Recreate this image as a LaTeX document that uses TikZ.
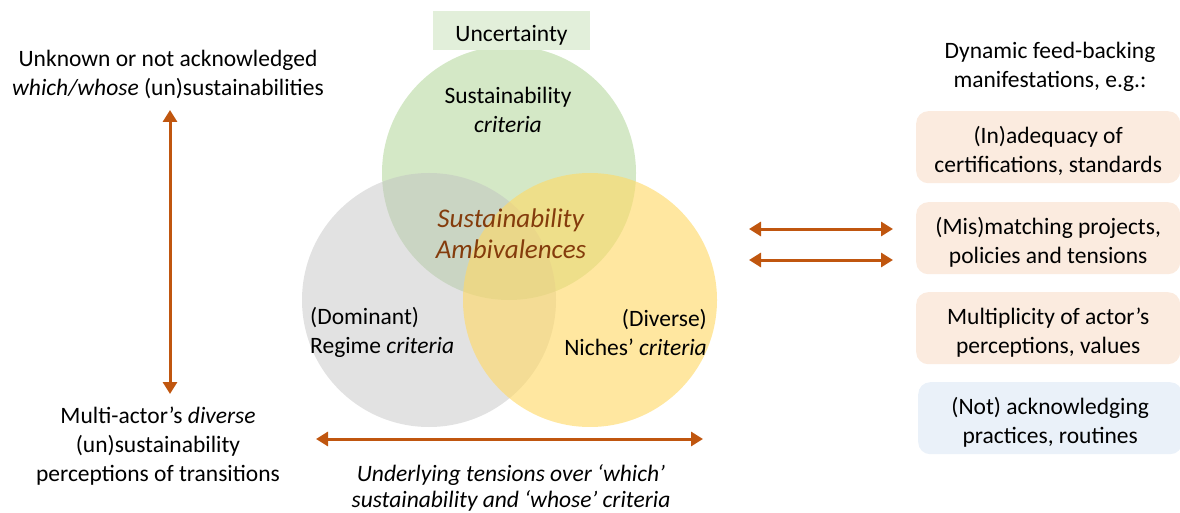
\documentclass[tikz,border=0pt]{standalone}
\usepackage{fontspec}
\setmainfont{Carlito}
\usetikzlibrary{arrows.meta}
\definecolor{arrowc}{HTML}{C0560F}
\definecolor{ambic}{HTML}{843C0C}
\definecolor{sustc}{HTML}{A9D18E}
\definecolor{regc}{HTML}{BFBFBF}
\definecolor{nichec}{HTML}{FFD966}
\definecolor{uncc}{HTML}{E2EFDA}
\definecolor{peachc}{HTML}{FBEBDF}
\definecolor{bluec}{HTML}{EAF1F9}
\begin{document}
\begin{tikzpicture}[x=1pt,y=-1pt,
  txt/.style={font=\fontsize{23.5}{29}\selectfont, align=center, inner sep=0pt},
  tighttxt/.style={font=\fontsize{23.5}{26}\selectfont, align=center, inner sep=0pt},
  bigtxt/.style={font=\fontsize{27}{31}\selectfont, align=center, inner sep=0pt},
  manif/.style={rounded corners=12pt, minimum width=264pt, minimum height=72pt,
                anchor=north west, inner sep=0pt},
  dbl/.style={arrowc, line width=3pt,
              {Triangle[width=14pt,length=12pt]}-{Triangle[width=14pt,length=12pt]}},
  setfill/.style={fill opacity=#1}]
\useasboundingbox (0,0) rectangle (1180,513);

% Venn sets
\fill[sustc, setfill=0.5] (509,173) circle[radius=127pt];
\fill[regc, setfill=0.45] (429,300) circle[radius=127pt];
\fill[nichec, setfill=0.62] (590,300) circle[radius=127pt];

% uncertainty label
\fill[uncc] (433,11) rectangle (590,50);
\node[txt] (unc) at (511.5,35) {Uncertainty};

% set labels
\node[txt] (sust) at (508,110) {Sustainability\\\textit{criteria}};
\node[bigtxt, text=ambic] (ambi) at (511,234) {\textit{Sustainability}\\\textit{Ambivalences}};
\node[txt, align=left, anchor=west] (regime) at (310,332) {(Dominant)\\Regime \textit{criteria}};
\node[txt, align=right, anchor=east] (niche) at (707,332) {(Diverse)\\Niches’ \textit{criteria}};

% left axis
\node[txt] (unknown) at (168,74) {Unknown or not acknowledged\\\textit{which/whose} (un)sustainabilities};
\node[txt] (multi) at (158,446) {Multi-actor’s \textit{diverse}\\(un)sustainability\\perceptions of transitions};
\coordinate (vtop) at (170,110);
\coordinate (vbot) at (170,394);
\draw[dbl] (vbot) -- (vtop);

% bottom axis
\coordinate (hl) at (316,439);
\coordinate (hr) at (703,439);
\draw[dbl] (hl) -- (hr);
\node[tighttxt] (under) at (511,488) {\textit{Underlying tensions over ‘which’}\\\textit{sustainability and ‘whose’ criteria}};

% feedback arrows
\coordinate (a1l) at (749,229);
\coordinate (a1r) at (893,229);
\coordinate (a2l) at (749,260);
\coordinate (a2r) at (893,260);
\draw[dbl] (a1l) -- (a1r);
\draw[dbl] (a2l) -- (a2r);

% manifestations
\node[txt] (dyn) at (1050,67) {Dynamic feed-backing\\manifestations, e.g.:};
\node[manif, fill=peachc] (m1) at (916,111) {};
\node[txt] (m1t) at ([yshift=-4pt]m1.center) {(In)adequacy of\\certifications, standards};
\node[manif, fill=peachc] (m2) at (916,202) {};
\node[txt] (m2t) at ([yshift=-4pt]m2.center) {(Mis)matching projects,\\policies and tensions};
\node[manif, fill=peachc] (m3) at (916,292) {};
\node[txt] (m3t) at ([yshift=-4pt]m3.center) {Multiplicity of actor’s\\perceptions, values};
\node[manif, fill=bluec] (m4) at (918,382) {};
\node[txt] (m4t) at ([yshift=-4pt]m4.center) {(Not) acknowledging\\practices, routines};
\end{tikzpicture}
\end{document}
